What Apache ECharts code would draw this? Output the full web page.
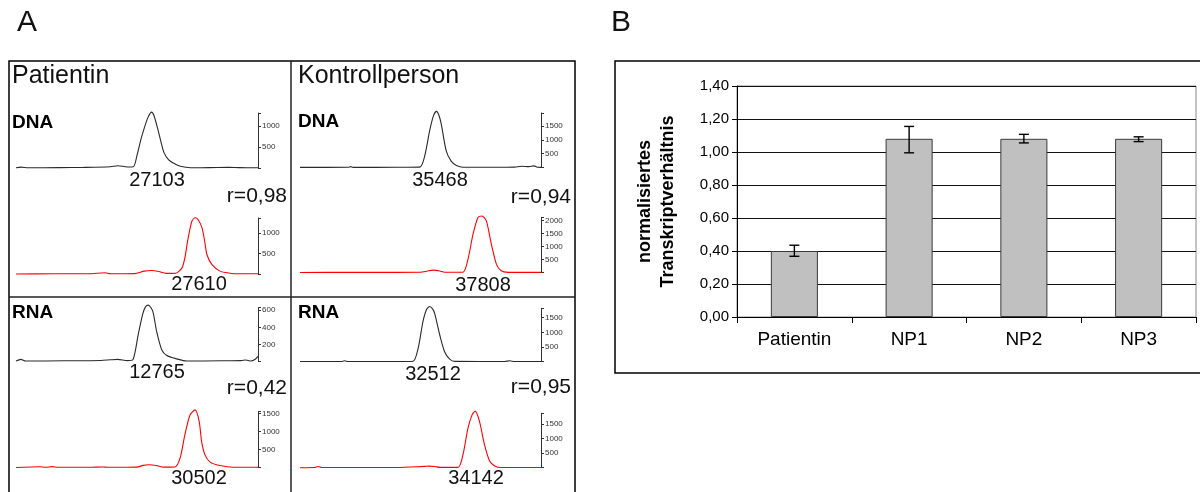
<!DOCTYPE html>
<html><head><meta charset="utf-8">
<script src="https://cdn.jsdelivr.net/npm/echarts@6/dist/echarts.min.js"></script>
<style>html,body{margin:0;padding:0;background:#fff}#c{width:1200px;height:492px}</style>
</head><body><div id="c"></div>
<script>
const FONT = 'Liberation Sans, Arial, Helvetica, sans-serif';

// ---------- Panel B data ----------
const categories = ['Patientin', 'NP1', 'NP2', 'NP3'];
const ratioValues = [0.40, 1.08, 1.08, 1.08];
const errLow  = [0.368, 0.995, 1.055, 1.063];
const errHigh = [0.435, 1.155, 1.107, 1.092];
const yAxisTitle = 'normalisiertes\nTranskriptverhältnis';

// ---------- Panel A data (position % along trace, signal) ----------
const patDnaA = [[0,5],[2,20],[5,5],[18,10],[28,15],[39,30],[42,55],[46,25],[48.5,30],[50,300],[51.7,700],[53,950],[54.5,1200],[56,1330],[57,1250],[58.5,950],[60,600],[61.2,360],[63,200],[64.8,125],[67,60],[69,30],[72.7,5],[80,8],[88,15],[92,10],[100,5]];
const patDnaB = [[0,0],[15,5],[30,5],[36.8,30],[39,5],[49,10],[53,70],[56,85],[59,60],[62,15],[66,20],[68.6,150],[69.8,400],[70.9,800],[71.9,1100],[72.7,1290],[74,1370],[75.2,1330],[76.9,1120],[78.1,750],[78.9,470],[81,230],[84.3,70],[88.4,20],[91.7,5],[100,5]];
const konDnaA = [[0,5],[20,8],[21,30],[22,5],[40,8],[49.7,15],[51.7,400],[53.8,1330],[55.3,1850],[56.6,2030],[57.6,1900],[58.6,1580],[60.7,590],[62.8,220],[64.9,74],[67.6,10],[80,8],[89,15],[92,45],[95,30],[97,60],[98.5,10],[100,5]];
const konDnaB = [[0,0],[20,5],[40,5],[50,10],[53,60],[55.5,90],[58,60],[60,10],[67.6,10],[69.7,510],[71.8,1470],[73.9,2120],[75.5,2170],[77.3,1990],[79.4,1090],[81.5,320],[83.5,65],[86.3,5],[100,5]];
const patRnaA = [[0,5],[2,25],[4,5],[20,8],[35,12],[39,20],[42,25],[46,10],[48.3,20],[50.5,315],[52.3,550],[53.5,640],[54.7,660],[56.5,590],[58.1,354],[60.2,138],[62.3,71],[66.4,31],[70.5,5],[85,8],[93,10],[95,18],[97,5],[99,30],[100,60]];
const patRnaB = [[0,0],[10,20],[12,5],[15,25],[17,5],[30,5],[36,15],[38,5],[50,10],[52.5,60],[55,75],[58,55],[61,10],[65.7,15],[67.8,260],[69.8,910],[71.9,1460],[74,1600],[75.7,1280],[76.7,720],[78.1,350],[80.2,150],[84.3,55],[89.7,5],[100,5]];
const konRnaA = [[0,5],[17,5],[18.5,30],[20,5],[40,5],[46.9,15],[49,450],[51,1360],[52.5,1780],[53.8,1880],[55,1800],[55.9,1640],[58,910],[60,340],[62.1,90],[64.2,10],[85,8],[87,30],[89,5],[100,5]];
const konRnaB = [[0,0],[6,5],[7.5,40],[9,5],[40,5],[51.7,45],[53.5,55],[55.9,40],[58,10],[65.6,10],[67.6,440],[69.7,1360],[71.4,1820],[72.7,1950],[74.5,1590],[76.6,780],[78.7,230],[80.8,60],[83.5,5],[100,5]];

const peakLabels = ['27103', '27610', '35468', '37808', '12765', '30502', '32512', '34142'];
const rLabels = ['r=0,98', 'r=0,94', 'r=0,42', 'r=0,95'];
const panelTitles = ['Patientin', 'Kontrollperson'];
const rowTitles = ['DNA', 'DNA', 'RNA', 'RNA'];
const panelLetters = ['A', 'B'];

// trace layout: data, colour, grid box, axis max, tick interval
const traces = [
  {d: patDnaA, c: '#2a2a2a', left: 16,  width: 242, top: 113,   height: 55,   max: 1310, iv: 500},
  {d: patDnaB, c: '#ff0000', left: 16,  width: 242, top: 218,   height: 56,   max: 1365, iv: 500},
  {d: konDnaA, c: '#2a2a2a', left: 300, width: 241, top: 113,   height: 54.5, max: 1970, iv: 500},
  {d: konDnaB, c: '#ff0000', left: 300, width: 241, top: 217.3, height: 55.2, max: 2120, iv: 500},
  {d: patRnaA, c: '#2a2a2a', left: 16,  width: 242, top: 307.7, height: 53.8, max: 630,  iv: 200},
  {d: patRnaB, c: '#ff0000', left: 16,  width: 242, top: 411.7, height: 55.8, max: 1550, iv: 500},
  {d: konRnaA, c: '#2a2a2a', left: 300, width: 241, top: 308.3, height: 53.4, max: 1820, iv: 500},
  {d: konRnaB, c: '#ff0000', left: 300, width: 241, top: 413.3, height: 54.4, max: 1875, iv: 500}
];

const grids = [], xAxes = [], yAxes = [], series = [];
traces.forEach((t, i) => {
  grids.push({left: t.left, top: t.top, width: t.width, height: t.height});
  xAxes.push({gridIndex: i, type: 'value', min: 0, max: 100, show: false});
  yAxes.push({
    gridIndex: i, type: 'value', position: 'right', min: 0, max: t.max, interval: t.iv,
    splitLine: {show: false},
    axisLine: {show: true, onZero: false, lineStyle: {color: '#333', width: 1}},
    axisTick: {show: true, inside: false, length: 3, lineStyle: {color: '#333', width: 1}},
    axisLabel: {show: true, fontSize: 8, color: '#333', margin: 4, fontFamily: FONT,
      formatter: v => (v > 0 && v % t.iv === 0) ? String(v) : ''}
  });
  series.push({
    type: 'line', xAxisIndex: i, yAxisIndex: i, data: t.d, showSymbol: false, clip: false,
    smooth: 0.25, lineStyle: {color: t.c, width: 1.1}, silent: true, animation: false
  });
});

// Panel B grid
const bi = traces.length;
grids.push({left: 737, right: 4, top: 86, bottom: 175, show: true, borderColor: '#8a8a8a', borderWidth: 1, backgroundColor: 'transparent'});
xAxes.push({
  gridIndex: bi, type: 'category', data: categories,
  axisLine: {lineStyle: {color: '#000', width: 1}},
  axisTick: {show: true, length: 6, interval: 0, lineStyle: {color: '#000'}},
  axisLabel: {fontSize: 19, color: '#000', margin: 13, fontFamily: FONT}
});
yAxes.push({
  gridIndex: bi, type: 'value', min: 0, max: 1.4, interval: 0.2,
  name: yAxisTitle, nameLocation: 'middle', nameRotate: 90, nameGap: 57,
  nameTextStyle: {fontSize: 18, fontWeight: 'bold', color: '#000', fontFamily: FONT, lineHeight: 23},
  axisLine: {show: true, lineStyle: {color: '#000', width: 1}},
  axisTick: {show: true, length: 5, lineStyle: {color: '#000'}},
  axisLabel: {fontSize: 15, color: '#000', margin: 8, fontFamily: FONT,
    formatter: v => v.toFixed(2).replace('.', ',')},
  splitLine: {show: true, lineStyle: {color: '#111', width: 1}}
});
series.push({
  type: 'bar', xAxisIndex: bi, yAxisIndex: bi, data: ratioValues, barWidth: '41%',
  itemStyle: {color: '#c0c0c0', borderColor: '#3a3a3a', borderWidth: 1}, animation: false
});
series.push({
  type: 'custom', xAxisIndex: bi, yAxisIndex: bi, z: 10, animation: false,
  data: categories.map((c, i) => [i, errLow[i], errHigh[i]]),
  renderItem: (params, api) => {
    const lo = api.coord([api.value(0), api.value(1)]);
    const hi = api.coord([api.value(0), api.value(2)]);
    const w = 5;
    const st = {stroke: '#000', lineWidth: 1.4};
    return {type: 'group', children: [
      {type: 'line', shape: {x1: lo[0], y1: lo[1], x2: hi[0], y2: hi[1]}, style: st},
      {type: 'line', shape: {x1: lo[0]-w, y1: lo[1], x2: lo[0]+w, y2: lo[1]}, style: st},
      {type: 'line', shape: {x1: hi[0]-w, y1: hi[1], x2: hi[0]+w, y2: hi[1]}, style: st}
    ]};
  }
});

// graphic annotations
const txt = (x, y, s, size, opt = {}) => ({
  type: 'text', x, y, silent: true,
  style: Object.assign({text: s, fontSize: size, fontFamily: FONT, fill: '#111',
    textAlign: 'left', textVerticalAlign: 'middle'}, opt)
});
const peakPos = [[157,180],[199,284],[440,180],[483,285],[157,372],[199,478],[433,374],[476,478]];
const rPos = [[287,196],[571,197],[287,388],[571,387]];
const rowPos = [[12,123],[298,122],[12,313],[298,313]];
const graphic = [
  {type: 'rect', shape: {x: 9, y: 61, width: 566, height: 460}, style: {fill: 'none', stroke: '#000', lineWidth: 1.5}, silent: true},
  {type: 'line', shape: {x1: 291, y1: 61, x2: 291, y2: 500}, style: {stroke: '#222', lineWidth: 1.5}, silent: true},
  {type: 'line', shape: {x1: 9, y1: 297, x2: 575, y2: 297}, style: {stroke: '#222', lineWidth: 1.5}, silent: true},
  {type: 'rect', shape: {x: 615, y: 61, width: 620, height: 312}, style: {fill: 'none', stroke: '#000', lineWidth: 1.5}, silent: true},
  txt(17, 23, panelLetters[0], 30),
  txt(611, 23, panelLetters[1], 30),
  txt(12, 76, panelTitles[0], 25),
  txt(298, 76, panelTitles[1], 25)
];
rowTitles.forEach((s, i) => graphic.push(txt(rowPos[i][0], rowPos[i][1], s, 19, {fontWeight: 'bold', fill: '#000'})));
peakLabels.forEach((s, i) => graphic.push(txt(peakPos[i][0], peakPos[i][1], s, 20, {textAlign: 'center'})));
rLabels.forEach((s, i) => graphic.push(txt(rPos[i][0], rPos[i][1], s, 21, {textAlign: 'right'})));

const chart = echarts.init(document.getElementById('c'), null, {renderer: 'canvas'});
chart.setOption({
  animation: false,
  backgroundColor: '#fff',
  grid: grids, xAxis: xAxes, yAxis: yAxes, series: series, graphic: graphic
});
</script></body></html>
